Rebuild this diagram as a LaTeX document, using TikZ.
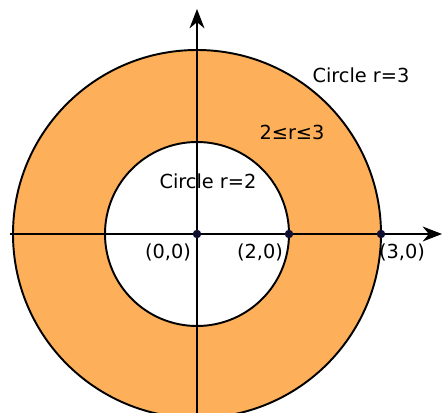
\documentclass[tikz,border=0pt]{standalone}
\usepackage{fontspec}
\setmainfont{DejaVu Sans}
\usepackage{xcolor}
\usepackage{tikz}
\usetikzlibrary{arrows.meta}

\definecolor{ringfill}{RGB}{253,175,90}
\definecolor{dotnavy}{RGB}{15,15,50}

\begin{document}
\begin{tikzpicture}[
  font=\fontsize{11}{13}\selectfont,
  >={Stealth[length=11pt,width=8.5pt,inset=3.5pt]},
  axis/.style={->, line width=0.6pt},
  ring/.style={draw, line width=1.1pt},
  dot/.style={
    circle, fill=dotnavy, inner sep=0pt,
    minimum size=0.17cm
  }
]
\useasboundingbox (-3.94,-3.58) rectangle (4.92,4.68);

% annulus
\fill[ringfill, even odd rule] (0,0) circle (3.68) (0,0) circle (1.84);
\draw[ring] (0,0) circle (3.68);
\draw[ring] (0,0) circle (1.84);

% axes
\coordinate (xl) at (-3.74,0);
\coordinate (xr) at (4.9,0);
\coordinate (yb) at (0,-3.7);
\coordinate (yt) at (0,4.5);
\draw[axis] (xl) -- (xr);
\draw[axis] (yb) -- (yt);

% points
\node[dot] (o) at (0,0) {};
\node[dot] (p2) at (1.84,0) {};
\node[dot] (p3) at (3.68,0) {};

% labels
\node (lo) at (-0.58,-0.36) {(0,0)};
\node (l2) at (1.26,-0.36) {(2,0)};
\node (l3) at (4.10,-0.36) {(3,0)};
\node (inner) at (0.22,1.06) {Circle r=2};
\node (outer) at (3.28,3.18) {Circle r=3};
\node (band) at (1.90,2.04) {2≤r≤3};

\end{tikzpicture}
\end{document}
